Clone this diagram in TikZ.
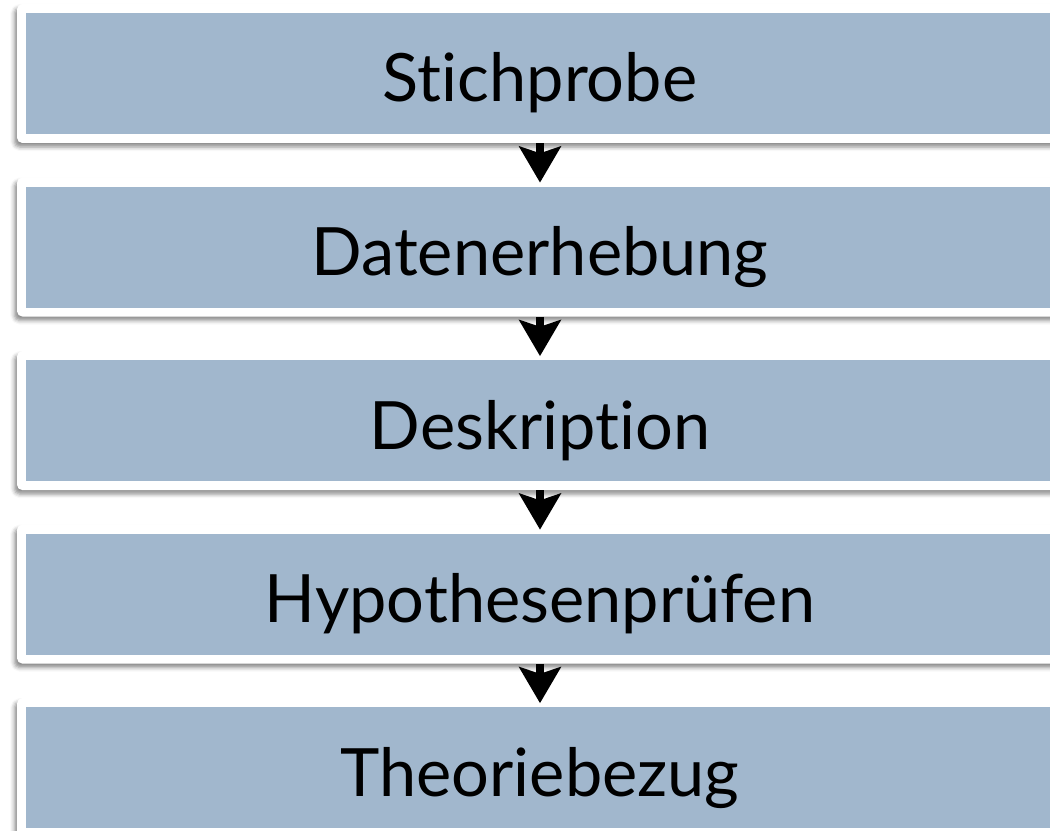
\documentclass[tikz,border=0pt]{standalone}
\usepackage{fontspec}
\setmainfont[Ligatures={NoCommon}]{Lato}
\usepackage{xcolor}
\definecolor{stepblue}{RGB}{161, 183, 205}
\usetikzlibrary{arrows.meta, positioning, shadows.blur}

\begin{document}
\begin{tikzpicture}[
    node distance=25.5pt,
    stepbox/.style={rectangle, fill=white, rounded corners=4pt,
                minimum width=784.5pt, minimum height=104.25pt, inner sep=0pt,
                text height=42.75pt, text depth=0pt,
                font=\fontsize{50}{56}\selectfont,
                blur shadow={shadow xshift=-2pt, shadow yshift=-3pt,
                             shadow blur radius=3pt, shadow opacity=45},
                path picture={\fill[stepblue, sharp corners]
                    ([shift={(6.75pt,6.75pt)}]path picture bounding box.south west)
                    rectangle
                    ([shift={(-6.75pt,-6.75pt)}]path picture bounding box.north east);}},
    arrow/.style={-{Stealth[length=27pt, width=31pt, inset=5pt]}, line width=6pt,
                  black, shorten >=-4pt}
]
    \useasboundingbox (0,0) rectangle (787.5pt,-623.25pt);

    \node[stepbox] (sample) at (405pt,-55.125pt) {Stichprobe};
    \node[stepbox, below=of sample] (collect) {Datenerhebung};
    \node[stepbox, below=of collect] (describe) {Deskription};
    \node[stepbox, below=of describe] (test) {Hypothesenprüfen};
    \node[stepbox, below=of test] (theory) {Theoriebezug};

    \draw[arrow] (sample) -- (collect);
    \draw[arrow] (collect) -- (describe);
    \draw[arrow] (describe) -- (test);
    \draw[arrow] (test) -- (theory);
\end{tikzpicture}
\end{document}
